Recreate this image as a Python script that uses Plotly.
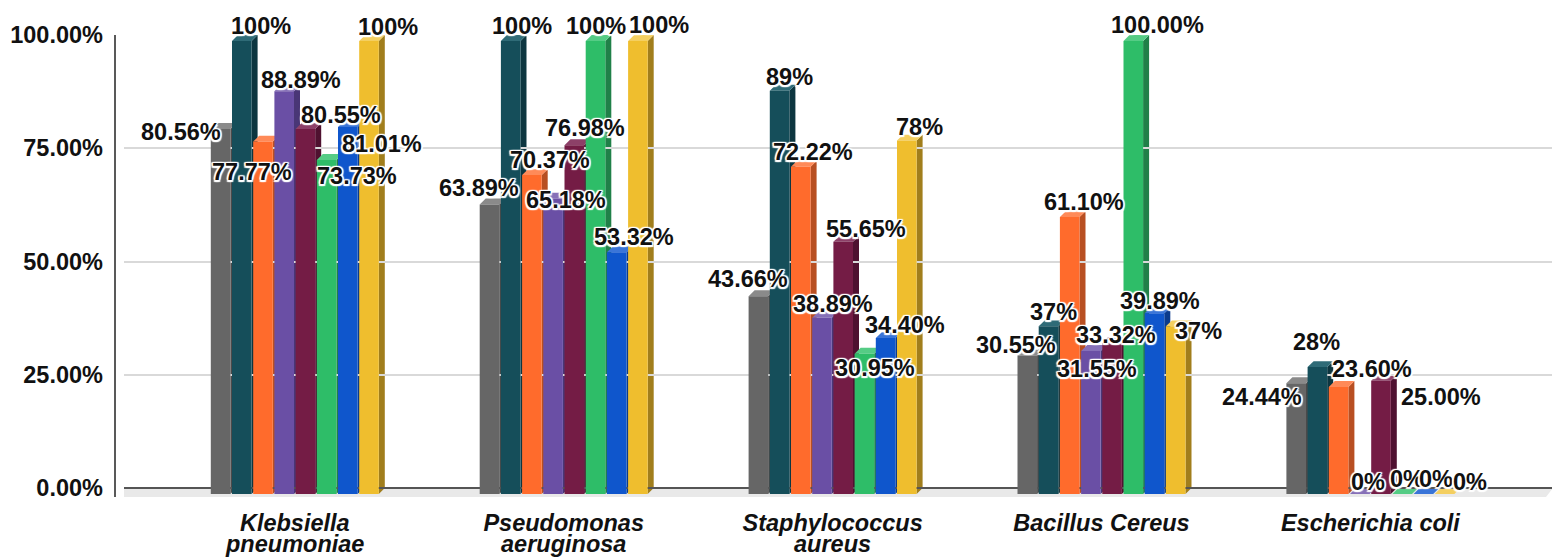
import plotly.graph_objects as go

tick_line1 = ["Klebsiella", "Pseudomonas", "Staphylococcus", "Bacillus Cereus", "Escherichia coli"]
tick_line2 = ["pneumoniae", "aeruginosa", "aureus", "", ""]

gray = [80.56, 63.89, 43.66, 30.55, 24.44]
teal = [100, 100, 89, 37, 28]
orange = [77.77, 70.37, 72.22, 61.10, 23.60]
purple = [88.89, 65.18, 38.89, 31.55, 0]
maroon = [80.55, 76.98, 55.65, 33.32, 25.00]
green = [73.73, 100, 30.95, 100, 0]
blue = [81.01, 53.32, 34.40, 39.89, 0]
yellow = [100, 100, 78, 37, 0]

gray_text = ["80.56%", "63.89%", "43.66%", "30.55%", "24.44%"]
teal_text = ["100%", "100%", "89%", "37%", "28%"]
orange_text = ["77.77%", "70.37%", "72.22%", "61.10%", "23.60%"]
purple_text = ["88.89%", "65.18%", "38.89%", "31.55%", "0%"]
maroon_text = ["80.55%", "76.98%", "55.65%", "33.32%", "25.00%"]
green_text = ["73.73%", "100%", "30.95%", "100.00%", "0%"]
blue_text = ["81.01%", "53.32%", "34.40%", "39.89%", "0%"]
yellow_text = ["100%", "100%", "78%", "37%", "0%"]

y_ticks = [0, 25, 50, 75, 100]
y_tick_text = ["0.00%", "25.00%", "50.00%", "75.00%", "100.00%"]

# --- layout and style below ---
series = [
    (gray, gray_text, "#666666", "#4a4a4a", "#8a8a8a"),
    (teal, teal_text, "#154e5a", "#0d3640", "#2f6b77"),
    (orange, orange_text, "#ff6b2c", "#b84f22", "#ff8a58"),
    (purple, purple_text, "#6a4fa5", "#493676", "#8670b8"),
    (maroon, maroon_text, "#741c45", "#4f1130", "#8d4068"),
    (green, green_text, "#2ebd68", "#208048", "#55cc85"),
    (blue, blue_text, "#0f56cc", "#0b3b8c", "#3a75d8"),
    (yellow, yellow_text, "#efbe2e", "#a17e1c", "#f4cf60"),
]
PX = 268.9
X0 = (124 - 294.8) / PX
X1 = (1553 - 294.8) / PX
centers = [0, 1, 2, 3, 4]
pitch = 21.2 / PX
bar_w = 19.6 / PX
DX = 6.0 / PX
DY = 1.3

# label offsets from each bar top, in pixels (series by group)
label_dx = [
    [-40, -11, -10, -11, -34],
    [19, 11, 10, 5, -1],
    [-11, 18, 12, 14, 33],
    [17, 13, 11, 6, 8],
    [36, 11, 23, 4, 60],
    [30, 0, 11, 24, 5],
    [34, 17, 19, 5, 13],
    [19, 21, 13, 23, 25],
]
label_dy = [
    [9, -11, -11, -5, 20],
    [-9, -9, -8, -8, -19],
    [36, -9, -9, -9, -12],
    [-5, 7, -8, 24, -6],
    [-8, -11, -7, -2, 22],
    [22, -9, 20, -10, -9],
    [23, -9, -7, -6, -9],
    [-8, -10, -8, 11, -6],
]

fig = go.Figure()
shapes = [
    dict(type="path", layer="below", xref="x", yref="y", line_width=0, fillcolor="#e9e9e9",
         path=f"M {X0} 0 L {X1} 0 L {X1 - 7 / PX} -2.0 L {X0 - 6 / PX} -2.0 Z"),
    dict(type="line", layer="below", xref="paper", yref="paper", x0=-9 / 1429, x1=-9 / 1429,
         y0=0.002, y1=1, line=dict(color="#595959", width=2)),
]
annotations = []
for si, (vals, texts, col, side, top) in enumerate(series):
    xs = [centers[g] + (si - 3.5) * pitch for g in range(5)]
    fig.add_trace(go.Bar(x=xs, y=vals, base=-DY, width=bar_w, marker=dict(color=col, line_width=0),
                         showlegend=False, hoverinfo="y"))
    for g, v in enumerate(vals):
        x, w = xs[g], bar_w / 2
        shapes.append(dict(type="path", layer="below", xref="x", yref="y", line_width=0, fillcolor=side,
                           path=f"M {x + w} {v - DY} L {x + w + DX} {v} L {x + w + DX} 0 L {x + w} {-DY} Z"))
        shapes.append(dict(type="path", layer="below", xref="x", yref="y", line_width=0, fillcolor=top,
                           path=f"M {x - w} {v - DY} L {x + w} {v - DY} L {x + w + DX} {v} L {x - w + DX} {v} Z"))

halo = ", ".join(f"{a}px {b}px 1px #ffffff" for a in (-1.5, 0, 1.5) for b in (-1.5, 0, 1.5))
for si, (vals, texts, col, side, top) in enumerate(series):
    for g, v in enumerate(vals):
        annotations.append(dict(
            x=centers[g] + (si - 3.5) * pitch, y=v, xref="x", yref="y", text=texts[g], showarrow=False,
            xshift=label_dx[si][g], yshift=-label_dy[si][g], xanchor="center", yanchor="middle",
            font=dict(family="Liberation Sans", size=23.5, color="#111111", weight=600, shadow=halo)))
for g, t in enumerate(tick_line2):
    if t:
        annotations.append(dict(
            x=centers[g], y=0, xref="x", yref="paper", yanchor="middle", showarrow=False, yshift=-46,
            text=f"<b><i>{t}</i></b>", font=dict(family="Liberation Sans", size=23.5, color="#111111")))

fig.update_layout(
    width=1552, height=550, margin=dict(l=116, r=7, t=27, b=60),
    paper_bgcolor="white", plot_bgcolor="white", barmode="overlay",
    shapes=shapes, annotations=annotations,
    xaxis=dict(range=[X0, X1], tickvals=centers, ticktext=[f"<b><i>{t}</i></b>" for t in tick_line1],
               automargin=False, showgrid=False, zeroline=False, showline=False, ticks="", ticklabelstandoff=8,
               tickfont=dict(family="Liberation Sans", size=23.5, color="#111111")),
    yaxis=dict(range=[-2.2, 100], tickvals=y_ticks, ticktext=[f"<b>{t}</b>" for t in y_tick_text],
               automargin=False, gridcolor="#d9d9d9", gridwidth=1.5, zeroline=True, zerolinecolor="#555555",
               zerolinewidth=2, showline=False, ticks="", ticklabelstandoff=20,
               tickfont=dict(family="Liberation Sans", size=23.5, color="#111111")),
)
fig.write_html("out.html")
